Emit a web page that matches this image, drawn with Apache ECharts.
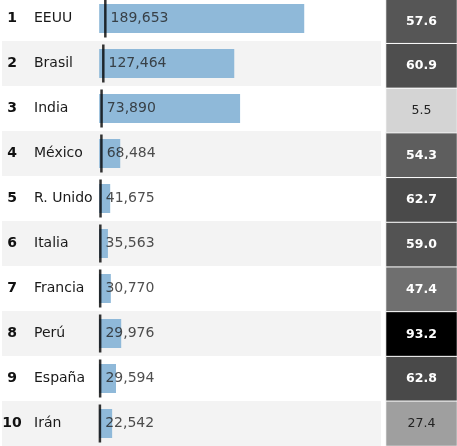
<!DOCTYPE html>
<html>
<head>
<meta charset="utf-8">
<script src="https://cdn.jsdelivr.net/npm/echarts@6/dist/echarts.min.js"></script>
<style>
html,body{margin:0;padding:0;background:#fff;}
#c{width:457px;height:446px;}
</style>
</head>
<body>
<div id="c"></div>
<script>
const ranks = [1, 2, 3, 4, 5, 6, 7, 8, 9, 10];
const countries = ['EEUU', 'Brasil', 'India', 'México', 'R. Unido', 'Italia', 'Francia', 'Perú', 'España', 'Irán'];
const deaths = [189653, 127464, 73890, 68484, 41675, 35563, 30770, 29976, 29594, 22542];
const cases = [6330000, 4170000, 4350000, 650000, 340000, 270000, 360000, 680000, 520000, 400000];
const deathsPer100k = [57.6, 60.9, 5.5, 54.3, 62.7, 59.0, 47.4, 93.2, 62.8, 27.4];

const FONT = 'DejaVu Sans';
const chart = echarts.init(document.getElementById('c'), null, {renderer: 'canvas'});

const labels = ranks.map((r, i) => r + '|' + countries[i]);

chart.setOption({
  animation: false,
  backgroundColor: '#ffffff',
  grid: [
    {left: 2, width: 379, top: -4, height: 450, outerBoundsMode: 'none', containLabel: false},
    {left: 386, width: 71, top: -1, height: 447, outerBoundsMode: 'none', containLabel: false}
  ],
  xAxis: [
    {gridIndex: 0, type: 'value', min: -3000000, max: 8700000, show: false, splitLine: {show: false}},
    {gridIndex: 1, type: 'category', data: ['v'], show: false}
  ],
  yAxis: [
    {
      gridIndex: 0, type: 'category', inverse: true, data: labels,
      axisLine: {show: false}, axisTick: {show: false},
      splitArea: {show: true, areaStyle: {color: ['#ffffff', '#f3f3f3']}},
      axisLabel: {
        inside: true, margin: 0, interval: 0,
        formatter: function (v) {
          const p = v.split('|');
          return '{r|' + p[0] + '}{c|' + p[1] + '}';
        },
        rich: {
          r: {width: 20, align: 'right', fontWeight: 'bold', fontSize: 14, fontFamily: FONT, color: '#111'},
          c: {fontSize: 14, fontFamily: FONT, color: '#1a1a1a', padding: [0, 0, 0, 12]}
        }
      }
    },
    {gridIndex: 1, type: 'category', inverse: true, data: labels, show: false}
  ],
  visualMap: {
    show: false, type: 'continuous', seriesIndex: 2, dimension: 2,
    min: 0, max: 93.2, inRange: {color: ['#e1e1e1', '#000000']}
  },
  series: [
    {
      type: 'bar', xAxisIndex: 0, yAxisIndex: 0,
      data: cases, barWidth: 29,
      itemStyle: {color: '#8fb9d9'}
    },
    {
      type: 'scatter', xAxisIndex: 0, yAxisIndex: 0,
      data: deaths.map((d, i) => [d, i]),
      symbol: 'rect', symbolSize: [2.5, 38],
      itemStyle: {color: '#000000'},
      label: {
        show: true, position: 'right', distance: 4,
        fontFamily: FONT, fontSize: 14, color: '#222',
        formatter: p => p.value[0].toLocaleString('en-US')
      }
    },
    {
      type: 'heatmap', xAxisIndex: 1, yAxisIndex: 1,
      data: deathsPer100k.map((v, i) => ({
        value: [0, i, v],
        label: {color: v < 35 ? '#222' : '#ffffff', fontWeight: v < 35 ? 'normal' : 'bold'}
      })),
      itemStyle: {borderColor: '#ffffff', borderWidth: 1},
      label: {
        show: true, fontFamily: FONT, fontSize: 12.5,
        formatter: p => p.value[2].toFixed(1)
      }
    }
  ]
});
</script>
</body>
</html>
